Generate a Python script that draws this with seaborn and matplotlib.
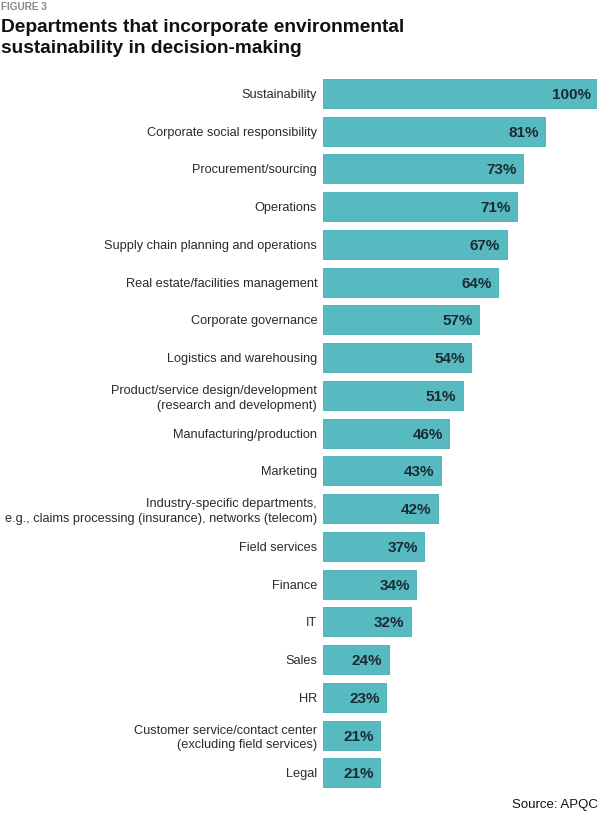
import numpy as np
import pandas as pd
import matplotlib
matplotlib.use('Agg')
import matplotlib.pyplot as plt
import seaborn as sns

departments = [
    'Sustainability',
    'Corporate social responsibility',
    'Procurement/sourcing',
    'Operations',
    'Supply chain planning and operations',
    'Real estate/facilities management',
    'Corporate governance',
    'Logistics and warehousing',
    'Product/service design/development\n(research and development)',
    'Manufacturing/production',
    'Marketing',
    'Industry-specific departments,\ne.g., claims processing (insurance), networks (telecom)',
    'Field services',
    'Finance',
    'IT',
    'Sales',
    'HR',
    'Customer service/contact center\n(excluding field services)',
    'Legal',
]
percents = [100, 81, 73, 71, 67, 64, 57, 54, 51, 46, 43, 42, 37, 34, 32, 24, 23, 21, 21]

df = pd.DataFrame({'dept': departments, 'pct': percents})

sns.set_style('white')
plt.rcParams['font.family'] = ['Liberation Sans', 'DejaVu Sans']

fig = plt.figure(figsize=(6, 8.18), dpi=100)
ax = fig.add_axes([0.538, 0.032, 0.457, 0.877])

sns.barplot(data=df, y='dept', x='pct', orient='h', color='#56BAC0',
            saturation=1, width=0.77, edgecolor='#46AEB5', linewidth=0.6, ax=ax)

ax.set_xlim(0, 100)
ax.set_ylim(len(departments) - 0.5, -0.5)
ax.set_xlabel('')
ax.set_ylabel('')
ax.set_xticks([])
ax.tick_params(axis='y', length=0, pad=4, labelsize=9.2, labelcolor='#2a2a2a')
for lbl in ax.get_yticklabels():
    lbl.set_horizontalalignment('right')
    lbl.set_multialignment('right')
    lbl.set_linespacing(1.3)
sns.despine(ax=ax, left=True, bottom=True)

for i, v in enumerate(percents):
    ax.text(v - 2.3, i + 0.04, f'{v}%', ha='right', va='center', fontsize=11,
            fontweight='bold', color='#1c2b33')

fig.text(0.002, 0.997, 'FIGURE 3', ha='left', va='top', fontsize=7.2,
         fontweight='bold', color='#8a8a8a')
fig.text(0.001, 0.9765, 'Departments that incorporate environmental\nsustainability in decision-making',
         ha='left', va='top', fontsize=13.8, fontweight='bold', color='#111111',
         linespacing=1.32)
fig.text(0.997, 0.008, 'Source: APQC', ha='right', va='bottom', fontsize=9.5,
         color='#111111')

fig.savefig('out.png', dpi=100)
